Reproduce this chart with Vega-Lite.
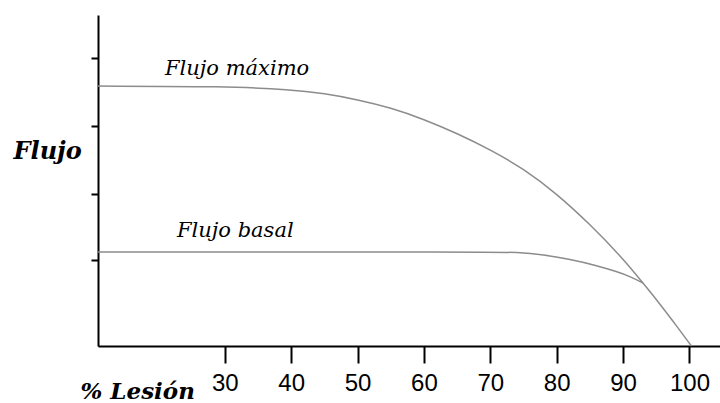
{
  "$schema": "https://vega.github.io/schema/vega-lite/v6.json",
  "width": 622,
  "height": 331,
  "autosize": {"type": "none"},
  "padding": {"left": 98, "top": 15, "right": 0, "bottom": 57},
  "background": "white",
  "config": {"view": {"stroke": null}},
  "datasets": {
    "curves": [
      {"serie": "Flujo máximo", "lesion": 10.9, "flujo": 38.4},
      {"serie": "Flujo máximo", "lesion": 30, "flujo": 38.35},
      {"serie": "Flujo máximo", "lesion": 40, "flujo": 37.9},
      {"serie": "Flujo máximo", "lesion": 45, "flujo": 37.3},
      {"serie": "Flujo máximo", "lesion": 50, "flujo": 36.4},
      {"serie": "Flujo máximo", "lesion": 55, "flujo": 35.2},
      {"serie": "Flujo máximo", "lesion": 60, "flujo": 33.5},
      {"serie": "Flujo máximo", "lesion": 65, "flujo": 31.4},
      {"serie": "Flujo máximo", "lesion": 70, "flujo": 29.0},
      {"serie": "Flujo máximo", "lesion": 75, "flujo": 26.2},
      {"serie": "Flujo máximo", "lesion": 80, "flujo": 22.5},
      {"serie": "Flujo máximo", "lesion": 85, "flujo": 18.0},
      {"serie": "Flujo máximo", "lesion": 90, "flujo": 12.9},
      {"serie": "Flujo máximo", "lesion": 93, "flujo": 9.3},
      {"serie": "Flujo máximo", "lesion": 95, "flujo": 6.9},
      {"serie": "Flujo máximo", "lesion": 97.5, "flujo": 3.7},
      {"serie": "Flujo máximo", "lesion": 100.3, "flujo": 0},
      {"serie": "Flujo basal", "lesion": 10.9, "flujo": 13.9},
      {"serie": "Flujo basal", "lesion": 70, "flujo": 13.9},
      {"serie": "Flujo basal", "lesion": 74, "flujo": 13.85},
      {"serie": "Flujo basal", "lesion": 78, "flujo": 13.5},
      {"serie": "Flujo basal", "lesion": 82, "flujo": 12.8},
      {"serie": "Flujo basal", "lesion": 86, "flujo": 11.9},
      {"serie": "Flujo basal", "lesion": 89, "flujo": 11.0},
      {"serie": "Flujo basal", "lesion": 91, "flujo": 10.3},
      {"serie": "Flujo basal", "lesion": 93, "flujo": 9.3}
    ],
    "labels": [
      {"label": "Flujo máximo", "lesion": 21.0, "flujo": 40.0},
      {"label": "Flujo basal", "lesion": 22.8, "flujo": 16.1}
    ]
  },
  "layer": [
    {
      "data": {"name": "curves"},
      "mark": {"type": "line", "interpolate": "basis", "strokeWidth": 1.5, "clip": false},
      "encoding": {
        "x": {
          "field": "lesion", "type": "quantitative",
          "scale": {"domain": [10.9, 104.6], "nice": false, "zero": false},
          "axis": {
            "values": [30, 40, 50, 60, 70, 80, 90, 100],
            "grid": false,
            "domainColor": "black", "domainWidth": 2,
            "tickColor": "black", "tickWidth": 2, "tickSize": 17,
            "labelFont": "Liberation Sans", "labelFontSize": 24, "labelColor": "black",
            "labelPadding": 8, "labelOverlap": false, "labelFlush": false,
            "title": "% Lesión",
            "titleFont": "DejaVu Serif", "titleFontStyle": "italic", "titleFontWeight": "bold",
            "titleFontSize": 23, "titleColor": "black",
            "titleX": -18, "titleY": 52, "titleAlign": "left", "titleBaseline": "alphabetic", "titleAnchor": null
          }
        },
        "y": {
          "field": "flujo", "type": "quantitative",
          "scale": {"domain": [0, 48.9], "nice": false},
          "axis": {
            "values": [12.7, 22.5, 32.5, 42.6],
            "labels": false,
            "grid": false,
            "domainColor": "black", "domainWidth": 2,
            "tickColor": "black", "tickWidth": 2, "tickSize": 7,
            "title": "Flujo",
            "titleFont": "DejaVu Serif", "titleFontStyle": "italic", "titleFontWeight": "bold",
            "titleFontSize": 24, "titleColor": "black", "titleAngle": 0,
            "titleX": -85, "titleY": 143, "titleAlign": "left", "titleBaseline": "alphabetic", "titleAnchor": null
          }
        },
        "color": {"field": "serie", "type": "nominal", "scale": {"range": ["#8c8c8c", "#8c8c8c"]}, "legend": null}
      }
    },
    {
      "data": {"name": "labels"},
      "mark": {"type": "text", "align": "left", "baseline": "alphabetic", "font": "DejaVu Serif", "fontStyle": "italic", "fontSize": 21, "color": "black"},
      "encoding": {
        "x": {"field": "lesion", "type": "quantitative"},
        "y": {"field": "flujo", "type": "quantitative"},
        "text": {"field": "label"}
      }
    }
  ]
}
